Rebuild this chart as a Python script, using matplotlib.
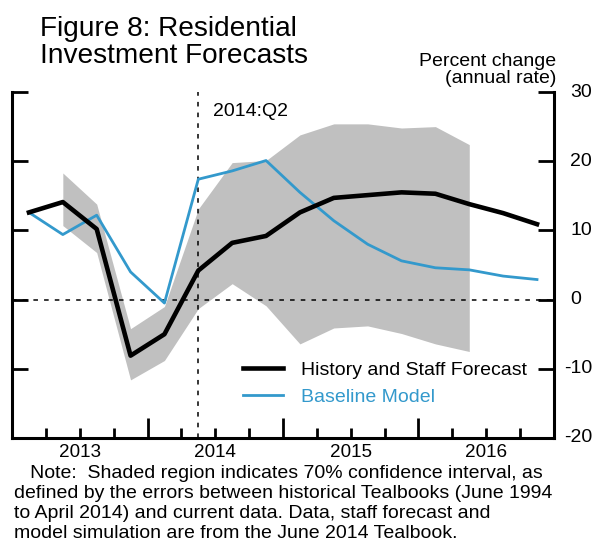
import numpy as np
import matplotlib
matplotlib.use("Agg")
from matplotlib import pyplot as plt

plt.rcParams["font.family"] = ["Liberation Sans", "DejaVu Sans"]
plt.rcParams["axes.unicode_minus"] = False

# quarters 2013:Q1 .. 2016:Q4
quarters = ["2013:Q1", "2013:Q2", "2013:Q3", "2013:Q4",
            "2014:Q1", "2014:Q2", "2014:Q3", "2014:Q4",
            "2015:Q1", "2015:Q2", "2015:Q3", "2015:Q4",
            "2016:Q1", "2016:Q2", "2016:Q3", "2016:Q4"]
staff = [12.6, 14.1, 10.2, -8.1, -5.0, 4.2, 8.2, 9.2,
         12.6, 14.7, 15.1, 15.5, 15.3, 13.8, 12.5, 10.9]
baseline = [12.6, 9.4, 12.2, 4.0, -0.5, 17.4, 18.6, 20.1,
            15.5, 11.4, 8.0, 5.6, 4.6, 4.3, 3.4, 2.9]
# 70% band, 2013:Q2 .. 2016:Q2
band_upper = [18.3, 13.8, -4.2, -1.0, 13.1, 19.8, 20.1,
              23.8, 25.4, 25.4, 24.8, 25.0, 22.4]
band_lower = [10.7, 6.8, -11.6, -8.8, -1.3, 2.3, -0.9,
              -6.4, -4.1, -3.8, -4.9, -6.4, -7.5]
years = ["2013", "2014", "2015", "2016"]
y_ticks = [-20, -10, 0, 10, 20, 30]
marker_quarter = "2014:Q2"

blue = "#3399cc"
x = np.arange(len(quarters)) + 0.5
xb = x[1:1 + len(band_upper)]

fig = plt.figure(figsize=(5.95, 5.41), dpi=100)
ax = fig.add_axes([0.0202, 0.1904, 0.9108, 0.6395])

ax.fill_between(xb, band_lower, band_upper, color="#c0c0c0", lw=0, zorder=1)
ax.axhline(0, color="black", lw=1.1, ls=(0, (3, 4)), zorder=2)
xq = x[quarters.index(marker_quarter)]
ax.axvline(xq, color="black", lw=1.1, ls=(0, (3, 4)), zorder=2)
ax.plot(x, baseline, color=blue, lw=2.0, zorder=3, label="Baseline Model")
ax.plot(x, staff, color="black", lw=3.3, zorder=4, label="History and Staff Forecast")

ax.set_xlim(0, len(quarters))
ax.set_ylim(-20, 30)

for s in ["left", "right", "bottom"]:
    ax.spines[s].set_linewidth(2.2)
ax.spines["top"].set_visible(False)

# y ticks on both sides, labels drawn by hand so the minus sign hangs left
ax.set_yticks(y_ticks)
ax.tick_params(axis="y", which="major", direction="in", length=11.5, width=2.0,
               left=True, right=True, labelleft=False, labelright=False)
for v in y_ticks:
    dx = 7.6 if v < 0 else 11.8
    ax.annotate(str(v), xy=(1, v), xycoords=ax.get_yaxis_transform(),
                xytext=(dx, 0), textcoords="offset points",
                ha="left", va="center", fontsize=14)

ax.set_xticks(np.arange(0, len(quarters) + 1, 4))
ax.set_xticks(np.arange(0, len(quarters) + 1), minor=True)
ax.tick_params(axis="x", which="major", direction="in", length=14.4, width=2.0,
               labelbottom=False)
ax.tick_params(axis="x", which="minor", direction="in", length=7.2, width=2.0)
for i, yr in enumerate(years):
    ax.text(4 * i + 2, -0.055, yr, transform=ax.get_xaxis_transform(),
            ha="center", va="baseline", fontsize=13.6)

ax.text(xq + 0.43, 26.5, marker_quarter, ha="left", va="baseline", fontsize=14)

handles, labels = ax.get_legend_handles_labels()
leg = ax.legend(handles[::-1], labels[::-1], loc="upper left",
                bbox_to_anchor=(0.426, 0.222), frameon=False, fontsize=14,
                handlelength=2.05, handletextpad=0.95, labelspacing=0.48,
                borderpad=0, borderaxespad=0)
leg.get_texts()[0].set_color("black")
leg.get_texts()[1].set_color(blue)

# va="baseline" on multi-line text anchors the last line
fig.text(40 / 595, 1 - 63 / 541, "Figure 8: Residential\nInvestment Forecasts",
         ha="left", va="baseline", fontsize=20.2, linespacing=1.06)
ax.text(1.004, 1.015, "Percent change\n(annual rate)", transform=ax.transAxes,
        ha="right", va="bottom", fontsize=14, multialignment="right",
        linespacing=1.0)

note = ("   Note:  Shaded region indicates 70% confidence interval, as\n"
        "defined by the errors between historical Tealbooks (June 1994\n"
        "to April 2014) and current data. Data, staff forecast and\n"
        "model simulation are from the June 2014 Tealbook.")
fig.text(14 / 595, 1 - 537.5 / 541, note, ha="left", va="baseline", fontsize=14,
         linespacing=1.21)

fig.savefig("out.png", dpi=100)
